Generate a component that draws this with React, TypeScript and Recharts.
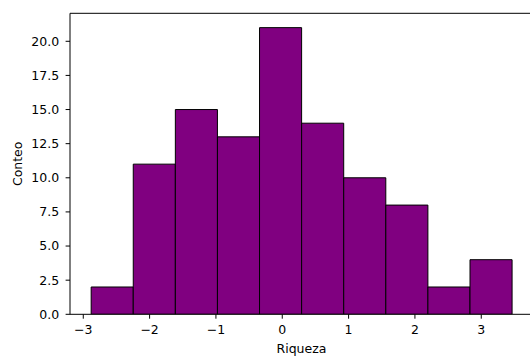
import { ComposedChart, Bar, XAxis, YAxis, Label, ReferenceLine } from 'recharts';

// histogram bin edges (Riqueza) and the count in each bin
const binEdges = [-2.881, -2.2464, -1.6118, -0.9772, -0.3426, 0.292, 0.9266, 1.5612, 2.1958, 2.8304, 3.465];
const counts = [2, 11, 15, 13, 21, 14, 10, 8, 2, 4];

const xTicks = [-3, -2, -1, 0, 1, 2, 3];
const yTicks = [0, 2.5, 5, 7.5, 10, 12.5, 15, 17.5, 20];

const xDomain: [number, number] = [-3.2, 3.78];
const yDomain: [number, number] = [0, 22.05];

const data = counts.map((count, i) => ({
  mid: (binEdges[i] + binEdges[i + 1]) / 2,
  count,
}));

const CHART_W = 534;
const CHART_H = 358;
const margin = { top: 13.3, right: 1, bottom: 0, left: 10 };
const Y_AXIS_W = 60;
const X_AXIS_H = 43.7;

const plotWidth = CHART_W - margin.left - Y_AXIS_W - margin.right;
const pxPerUnit = plotWidth / (xDomain[1] - xDomain[0]);
// recharts shrinks bars to 90% when barSize reaches the band size, so stay just under it
const minStep = Math.min(...data.slice(1).map((d, i) => d.mid - data[i].mid));
const barPx = minStep * pxPerUnit - 0.02;

const font = { fontFamily: 'DejaVu Sans', fontSize: 12.5, fill: '#000' };
const minus = (v: number) => String(v).replace('-', '\u2212');

const YLabel = ({ viewBox }: any) => {
  const cy = viewBox ? viewBox.y + viewBox.height / 2 : 163.8;
  const bx = 22.5;
  return (
    <text x={bx} y={cy} transform={`rotate(-90, ${bx}, ${cy})`} textAnchor="middle" {...font}>
      Conteo
    </text>
  );
};

export default function App() {
  return (
    <div style={{ position: 'fixed', left: 0, top: 0, width: 530, height: 358, overflow: 'hidden', background: '#fff' }}>
      <ComposedChart
        width={CHART_W}
        height={CHART_H}
        data={data}
        margin={margin}
        barCategoryGap={0}
        barGap={0}
      >
        <XAxis
          dataKey="mid"
          type="number"
          domain={xDomain}
          allowDataOverflow
          ticks={xTicks}
          tickFormatter={minus}
          height={X_AXIS_H}
          tick={font}
          tickSize={4.4}
          tickMargin={6}
          stroke="#000"
          interval={0}
        >
          <Label value="Riqueza" position="insideBottom" offset={5.3} style={font} />
        </XAxis>
        <YAxis
          type="number"
          domain={yDomain}
          allowDataOverflow
          ticks={yTicks}
          tickFormatter={(v: number) => v.toFixed(1)}
          width={Y_AXIS_W}
          tick={font}
          tickSize={4.4}
          tickMargin={6.5}
          stroke="#000"
          interval={0}
          label={<YLabel />}
        />
        <Bar
          dataKey="count"
          fill="#800080"
          stroke="#000"
          strokeWidth={1}
          barSize={barPx}
          isAnimationActive={false}
        />
        {/* top frame line */}
        <ReferenceLine y={yDomain[1]} stroke="#000" strokeWidth={1} />
      </ComposedChart>
    </div>
  );
}
